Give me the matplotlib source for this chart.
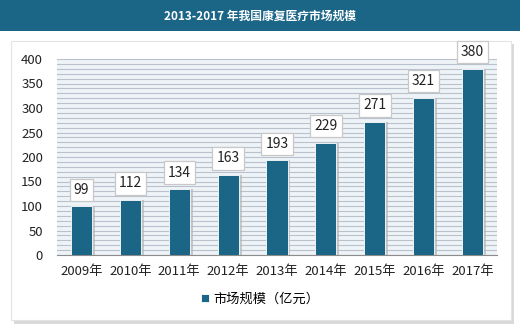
import matplotlib.pyplot as plt
from matplotlib.patches import Rectangle

plt.rcParams['font.family'] = ['Noto Sans CJK SC', 'DejaVu Sans']

years = ['2009年', '2010年', '2011年', '2012年', '2013年', '2014年', '2015年', '2016年', '2017年']
market_size = [99, 112, 134, 163, 193, 229, 271, 321, 380]
y_ticks = [0, 50, 100, 150, 200, 250, 300, 350, 400]
title = '2013-2017 年我国康复医疗市场规模'
series_name = '市场规模（亿元）'

bar_color = '#1b6587'

fig = plt.figure(figsize=(5.2, 3.24), dpi=100)
fig.patch.set_facecolor('white')

# title banner
fig.patches.append(Rectangle((0, 1 - 31/324), 1, 31/324, transform=fig.transFigure,
                             facecolor='#1b6587', edgecolor='none', zorder=-2))
fig.text(0.5, 1 - 16/324, title, color='white', fontsize=8.5, fontweight='bold',
         ha='center', va='center')

# panel with shadow
fig.patches.append(Rectangle((14/520, 0), 500/520, 280/324, transform=fig.transFigure,
                             facecolor='#d9d9d9', edgecolor='none', zorder=-2))
fig.patches.append(Rectangle((11/520, 4/324), 500/520, 279/324, transform=fig.transFigure,
                             facecolor='white', edgecolor='#e4e4e4', linewidth=0.8, zorder=-1))

ax = fig.add_axes([57/520, 1 - 255/324, 440/520, 196/324])
ax.set_zorder(2)
ax.set_facecolor('#eef3f8')
x = range(len(years))

# bar shadows
ax.bar([i + 0.06 for i in x], market_size, width=0.43, color='#b5b5b5', alpha=0.7, zorder=2)
bars = ax.bar(x, market_size, width=0.43, color=bar_color, edgecolor='white',
              linewidth=0.6, zorder=3)

for i, v in enumerate(market_size):
    ax.annotate(str(v), (i, v), xytext=(0, 7), textcoords='offset points',
                ha='center', va='bottom', fontsize=10, color='#222222', zorder=5,
                bbox=dict(boxstyle='square,pad=0.3', facecolor='white',
                          edgecolor='#c8c8c8', linewidth=0.9), annotation_clip=False)

ax.set_ylim(0, 400)
ax.set_xlim(-0.5, len(years) - 0.5)
ax.set_yticks(y_ticks)
ax.set_yticks(range(0, 401, 10), minor=True)
ax.grid(axis='y', which='both', color='#b9c2cc', linewidth=0.8, zorder=1)
ax.set_axisbelow(True)
ax.set_xticks(list(x))
ax.set_xticklabels(years)
ax.tick_params(axis='both', which='both', length=0, labelsize=9.5, colors='#222222')
ax.tick_params(axis='y', pad=10)
ax.tick_params(axis='x', pad=7)
for s in ['top', 'right', 'left']:
    ax.spines[s].set_visible(False)
ax.spines['bottom'].set_color('#8c8c8c')

leg = fig.legend([bars], [series_name], loc='center', bbox_to_anchor=(0.5, 1 - 299/324),
                 frameon=False, fontsize=9.5, handlelength=0.6, handleheight=0.6,
                 handletextpad=0.3)

fig.savefig('out.png', dpi=100, facecolor=fig.get_facecolor())
